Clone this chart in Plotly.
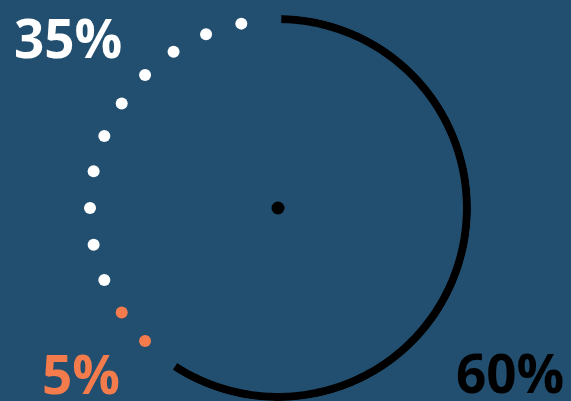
import plotly.graph_objects as go

labels = ["60%", "5%", "35%"]
values = [60, 5, 35]
colors = ["#000000", "#F47B4C", "#FFFFFF"]
dot_step = 11.25  # degrees between decorative dots

W, H = 571, 401
BG = "#224F6F"

fig = go.Figure()

# black solid arc for the first segment
e0 = values[0] * 3.6
n = 200
th = [1 + (e0 - 3 - 1) * i / (n - 1) for i in range(n)]
fig.add_trace(go.Scatterpolar(r=[0.979] * n, theta=th, mode="lines",
                              line=dict(color=colors[0], width=8),
                              hoverinfo="skip", showlegend=False))

# dotted segments: dots counted from the end of the arc, shared by value
thetas = []
k = 1
while 360 - k * dot_step > e0:
    thetas.append(360 - k * dot_step)
    k += 1
thetas = thetas[::-1]  # from arc end towards the top
rest = sum(values[1:])
counts = [round(len(thetas) * v / rest) for v in values[1:]]
idx = 0
for seg, cnt in enumerate(counts):
    pts = thetas[idx: idx + cnt]
    idx += cnt
    fig.add_trace(go.Scatterpolar(r=[0.974] * len(pts), theta=pts, mode="markers",
                                  marker=dict(color=colors[seg + 1], size=12),
                                  hoverinfo="skip", showlegend=False))

# center dot
fig.add_trace(go.Scatterpolar(r=[0], theta=[0], mode="markers",
                              marker=dict(color="#000000", size=13),
                              hoverinfo="skip", showlegend=False))

cx, cy, R = 278, 208, 193
fig.update_layout(
    width=W, height=H,
    margin=dict(l=0, r=0, t=0, b=0),
    paper_bgcolor=BG, plot_bgcolor=BG,
    polar=dict(
        bgcolor=BG,
        domain=dict(x=[(cx - R) / W, (cx + R) / W], y=[(H - cy - R) / H, (H - cy + R) / H]),
        radialaxis=dict(range=[0, 1], visible=False),
        angularaxis=dict(visible=False, rotation=90, direction="clockwise"),
    ),
)

font = "Open Sans"
ann = [
    (labels[2], 68, 37, colors[2]),
    (labels[1], 81, 373, colors[1]),
    (labels[0], 510, 372, colors[0]),
]
for text, x, y, c in ann:
    fig.add_annotation(text=text, x=x / W, y=1 - y / H, xref="paper", yref="paper",
                       xanchor="center", yanchor="middle", showarrow=False,
                       height=46, borderpad=0, valign="middle",
                       font=dict(family=font, size=53, color=c, weight=700))

fig.write_html("out.html", config={"displayModeBar": False},
               post_script="document.body.style.margin='0';")
